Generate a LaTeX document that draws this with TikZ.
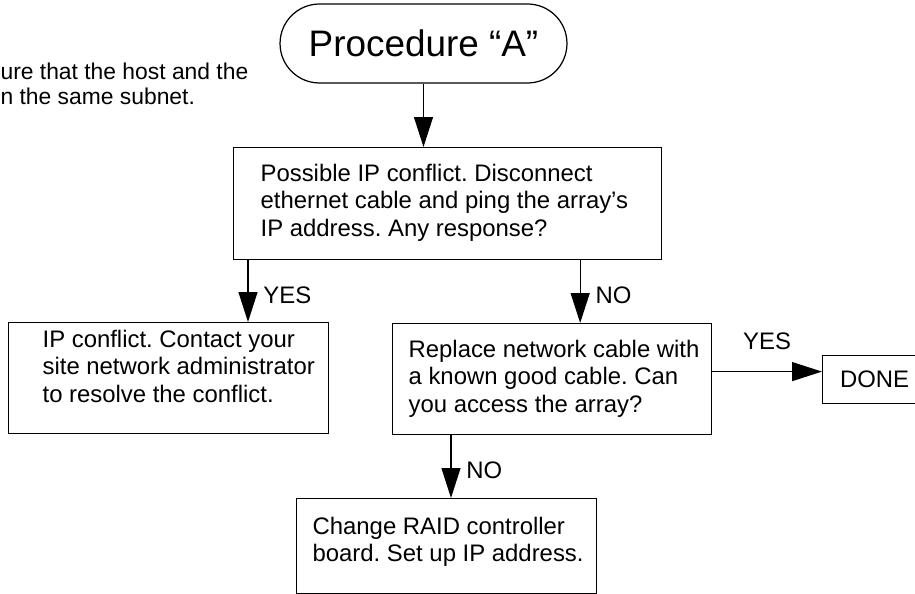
\documentclass[tikz,border=0pt]{standalone}
\usepackage{fontspec}
\setmainfont{Liberation Sans}
\usetikzlibrary{arrows.meta}
\frenchspacing

\tikzset{
  stepbox/.style={draw, rectangle, anchor=north west, inner sep=0pt},
  steptext/.style={anchor=north west, inner sep=0pt, align=left, font=\fontsize{13.6}{15.4}\selectfont},
  answer/.style={font=\fontsize{13.6}{15.4}\selectfont},
  flow/.style={-{Triangle[length=0.6cm,width=0.38cm]}},
}

\begin{document}
\begin{tikzpicture}[x=0.02cm, y=-0.02cm, line width=0.7pt]
\clip (0,0) rectangle (915,594);

% start of the procedure
\node[draw, rounded corners=0.79cm, minimum width=5.74cm, minimum height=1.58cm,
      font=\fontsize{21}{25}\selectfont] (proc) at (423.5,43.5) {Procedure “A”};
\node[steptext, font=\fontsize{13}{14.6}\selectfont] (note) at (0,62)
  {ure that the host and the\\n the same subnet.};

% boxes
\node[stepbox, minimum width=8.56cm, minimum height=2.24cm] (ping) at (233,147) {};
\node[steptext] (pingtxt) at (260,164)
  {Possible IP conflict. Disconnect\\ethernet cable and ping the array’s\\IP address. Any response?};

\node[stepbox, minimum width=6.4cm, minimum height=2.22cm] (conflict) at (8,322) {};
\node[steptext] (conflicttxt) at (42,330)
  {IP conflict. Contact your\\site network administrator\\to resolve the conflict.};

\node[stepbox, minimum width=6.38cm, minimum height=2.22cm] (replace) at (392,323) {};
\node[steptext] (replacetxt) at (408,340)
  {Replace network cable with\\a known good cable. Can\\you access the array?};

\node[stepbox, minimum width=6cm, minimum height=1.9cm] (raid) at (296,498) {};
\node[steptext] (raidtxt) at (312,517)
  {Change RAID controller\\board. Set up IP address.};

\node[stepbox, answer, minimum width=2.08cm, minimum height=0.96cm] (done) at (822,355) {DONE};

% connectors
\coordinate (yesA) at ([xshift=0.3cm]ping.south west);
\coordinate (noA) at ([xshift=-1.64cm]ping.south east);
\coordinate (noB) at ([xshift=1.18cm]replace.south west);
\coordinate (yesB) at ([yshift=0.15cm]replace.east);

\draw[flow] (proc.south) -- (proc.south |- ping.north);
\draw[flow] (yesA) -- (yesA |- conflict.north)
  node[answer, pos=0.56, right, xshift=0.18cm] (yes1) {YES};
\draw[flow] (noA) -- (noA |- replace.north)
  node[answer, pos=0.56, right, xshift=0.18cm] (no1) {NO};
\draw[flow] (noB) -- (noB |- raid.north)
  node[answer, pos=0.56, right, xshift=0.18cm] (no2) {NO};
\draw[flow] (yesB) -- (yesB -| done.west)
  node[answer, midway, above, yshift=0.3cm] (yes2) {YES};
\end{tikzpicture}
\end{document}
